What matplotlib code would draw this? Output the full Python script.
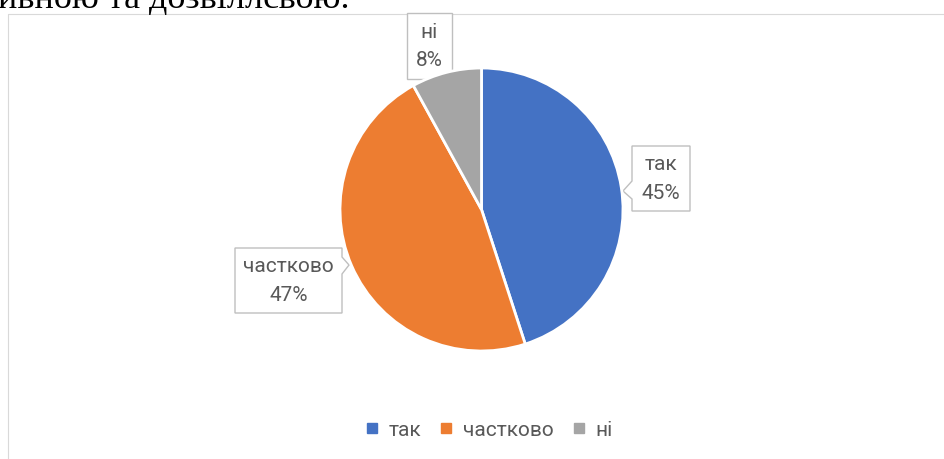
import matplotlib

matplotlib.use("Agg")
import matplotlib.pyplot as plt
from matplotlib.patches import Rectangle, Polygon
from matplotlib.lines import Line2D

# data
labels = ["так", "частково", "ні"]
shares = [45, 47, 8]
colors = ["#4472C4", "#ED7D31", "#A5A5A5"]

W, H = 944, 459
TEXT = "#595959"
EDGE = "#BFBFBF"
FONT = ["Roboto", "DejaVu Sans"]

fig = plt.figure(figsize=(W / 100, H / 100), dpi=100)
ax = fig.add_axes([0, 0, 1, 1])
ax.set_xlim(0, W)
ax.set_ylim(H, 0)
ax.axis("off")

# chart frame (runs off the page to the right and bottom)
ax.add_patch(Rectangle((7.5, 13.5), 1000, 500, fill=False, ec="#D9D9D9", lw=0.8))

# cut-off line of the document text above the chart
fig.text(-0.002, 1 - 8 / H, "ивною та дозвіллєвою.", family="Liberation Serif",
         fontsize=26, color="black", va="baseline", ha="left")

# pie in its own axes with normal orientation
cx, cy, r = 481.5, 209.5, 141.5
pax = fig.add_axes([(cx - r - 2) / W, 1 - (cy + r + 2) / H, (2 * r + 4) / W, (2 * r + 4) / H])
pax.pie(shares, colors=colors, startangle=90, counterclock=False, radius=r / (r + 2),
        wedgeprops=dict(edgecolor="white", linewidth=2))
pax.set_xlim(-1, 1)
pax.set_ylim(-1, 1)
pax.set_aspect("auto")
pax.axis("off")

# callout boxes: (box x0, y0, x1, y1), pointer polygon side
boxes = [
    dict(box=(632, 146, 690, 211), notch=("left", 181, 199, 623, 191)),
    dict(box=(235, 248, 342, 313), notch=("right", 257, 274, 349, 265)),
    dict(box=(407, 13, 452, 79), notch=None),
]

for lab, val, b in zip(labels, shares, boxes):
    x0, y0, x1, y1 = b["box"]
    pts = [(x0, y0), (x1, y0)]
    n = b["notch"]
    if n and n[0] == "right":
        pts += [(x1, n[1]), (n[3], n[4]), (x1, n[2])]
    pts += [(x1, y1), (x0, y1)]
    if n and n[0] == "left":
        pts += [(x0, n[2]), (n[3], n[4]), (x0, n[1])]
    ax.add_patch(Polygon(pts, closed=True, fc="white", ec=EDGE, lw=1.0, zorder=5))
    xm = (x0 + x1) / 2
    ym = (y0 + y1) / 2
    ax.text(xm, ym - 14, lab, ha="center", va="center", fontsize=15, color=TEXT,
            family=FONT, zorder=6)
    ax.text(xm, ym + 15, f"{val}%", ha="center", va="center", fontsize=15, color=TEXT,
            family=FONT, zorder=6)

# legend
handles = [Line2D([], [], marker="s", ls="none", color=c, markersize=6.5) for c in colors]
fig.legend(handles, labels, loc="center", bbox_to_anchor=(489 / W, 1 - 430 / H), ncol=3,
           frameon=False, handlelength=0.6, handletextpad=0.5, columnspacing=0.9,
           prop=dict(family=FONT, size=15), labelcolor=TEXT)

fig.savefig("out.png", dpi=100)
